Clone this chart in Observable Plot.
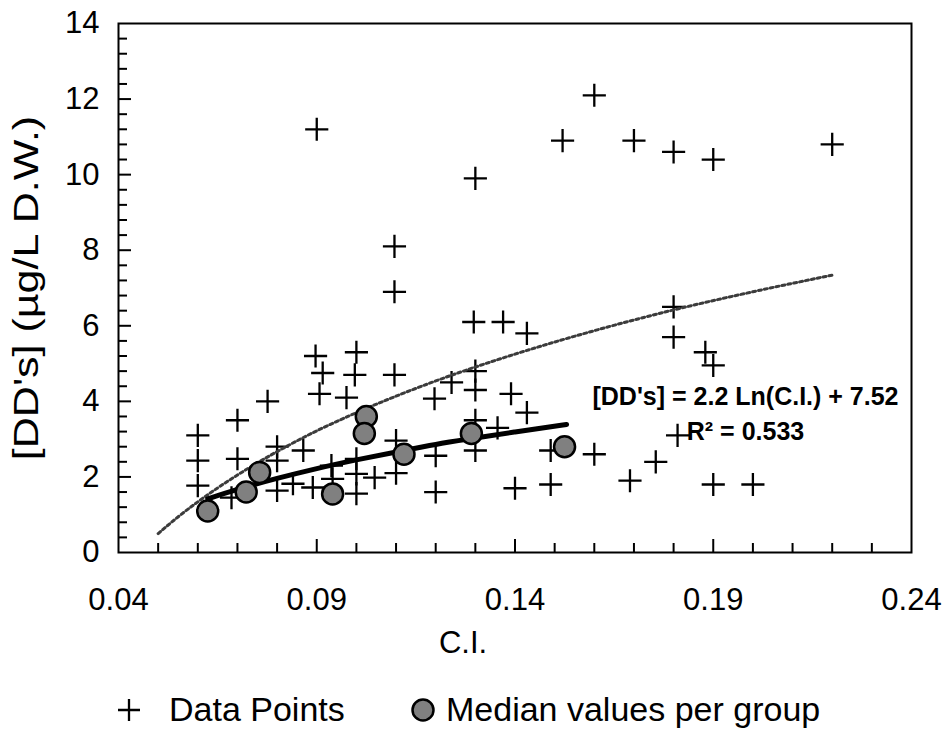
<!DOCTYPE html>
<html>
<head>
<meta charset="utf-8">
<script src="https://cdn.jsdelivr.net/npm/d3@7"></script>
<script src="https://cdn.jsdelivr.net/npm/@observablehq/plot@0.6"></script>
<style>
  body { margin: 0; background: #fff; }
  #wrap { position: relative; width: 944px; height: 734px; overflow: hidden; background: #fff; }
  #chart svg { display: block; }
  .leg { position: absolute; font-family: "Liberation Sans", Arial, sans-serif; font-size: 34px; line-height: 34px; color: #000; white-space: nowrap; }
  .sym { position: absolute; }
</style>
</head>
<body>
<div id="wrap">
  <div id="chart"></div>
  <svg class="sym" style="left:115px;top:696px" width="28" height="28">
    <path d="M3,14H25M14,3V25" stroke="#000" stroke-width="2.3" fill="none"/>
  </svg>
  <div class="leg" style="left:169px;top:692px">Data Points</div>
  <svg class="sym" style="left:409px;top:696px" width="28" height="28">
    <circle cx="14" cy="14" r="10.5" fill="#808080" stroke="#000" stroke-width="2.5"/>
  </svg>
  <div class="leg" style="left:446px;top:692px">Median values per group</div>
</div>
<script>
// Data points (C.I., [DD's])
const dataX = [0.06,0.06,0.06,0.0685,0.07,0.07,0.0776,0.08,0.08,0.08,0.084,0.0866,0.089,0.09,0.0897,0.0915,0.0907,0.0937,0.094,0.0975,0.10,0.0996,0.10,0.10,0.10,0.1046,0.1096,0.1096,0.1096,0.11,0.11,0.1197,0.12,0.12,0.124,0.13,0.1296,0.137,0.143,0.13,0.13,0.13,0.13,0.1356,0.143,0.139,0.14,0.149,0.149,0.16,0.152,0.16,0.17,0.18,0.19,0.22,0.18,0.18,0.188,0.19,0.181,0.1755,0.169,0.19,0.2];
const dataY = [3.1,2.43,1.77,1.45,3.5,2.48,4.0,2.8,2.43,1.64,1.82,2.7,1.72,11.2,5.2,4.75,4.2,2.3,1.95,4.1,5.3,4.7,2.48,2.08,1.56,1.98,8.1,6.9,4.7,2.96,2.1,4.07,2.56,1.6,4.5,9.9,6.1,6.1,5.8,4.8,4.3,3.5,2.7,3.3,3.7,4.2,1.7,1.8,2.7,2.6,10.9,12.1,10.9,10.6,10.4,10.8,6.5,5.7,5.3,4.95,3.1,2.4,1.9,1.8,1.8];

// Median values per group
const medX = [0.0625,0.0722,0.0756,0.094,0.1025,0.102,0.112,0.129,0.1525];
const medY = [1.1,1.6,2.12,1.55,3.6,3.15,2.6,3.15,2.8];

// Trendline through medians (solid)
const medFitX = [0.0625,0.07,0.08,0.09,0.10,0.11,0.12,0.13,0.14,0.153];
const medFitY = [1.42,1.67,1.96,2.22,2.45,2.66,2.86,3.03,3.19,3.39];

// Trendline through all data points (dotted)
const allFitX = [0.05,0.055,0.06,0.07,0.08,0.09,0.10,0.12,0.14,0.16,0.18,0.20,0.22];
const allFitY = [0.5,0.94,1.34,2.05,2.67,3.22,3.70,4.54,5.25,5.87,6.42,6.90,7.34];

// Axis ticks
const xTickLabels = [0.04,0.09,0.14,0.19,0.24];
const yTickLabels = [0,2,4,6,8,10,12,14];
const xMinorTicks = [0.05,0.06,0.07,0.08,0.10,0.11,0.12,0.13,0.15,0.16,0.17,0.18,0.20,0.21,0.22,0.23];
const xMajorTicks = [0.09,0.14,0.19];
const yMajorTicks = [2,4,6,8,10,12];
const yMinorTicks = d3.range(0.4, 14, 0.4).filter(v => Math.abs(v / 2 - Math.round(v / 2)) > 1e-6);

const eqLine1 = "[DD's] = 2.2 Ln(C.I.) + 7.52";
const eqLine2 = "R\u00B2 = 0.533";
const xTitle = "C.I.";
const yTitle = "[DD's] (\u00B5g/L D.W.)";

const points = dataX.map((x, i) => ({x, y: dataY[i]}));
const medians = medX.map((x, i) => ({x, y: medY[i]}));
const medFit = medFitX.map((x, i) => ({x, y: medFitY[i]}));
const allFit = allFitX.map((x, i) => ({x, y: allFitY[i]}));

const W = 944, H = 670, mL = 118, mR = 33, mT = 23, mB = 118;
const plotW = W - mL - mR, plotH = H - mT - mB;
const font = '"Liberation Sans", Arial, sans-serif';

const chart = Plot.plot({
  width: W, height: H,
  marginLeft: mL, marginRight: mR, marginTop: mT, marginBottom: mB,
  style: {fontFamily: font, fontSize: "31px", color: "#000", background: "#fff", overflow: "visible"},
  x: {domain: [0.04, 0.24], label: null},
  y: {domain: [0, 14], label: null},
  marks: [
    Plot.axisX(xTickLabels, {tickSize: 0, tickPadding: 35, tickFormat: d3.format(".2f"), fontSize: 31, label: null}),
    Plot.axisY(yTickLabels, {tickSize: 0, tickPadding: 19, fontSize: 31, label: null}),
    Plot.tickX(xMinorTicks, {x: d => d, insetTop: plotH - 9, stroke: "#000", strokeWidth: 2}),
    Plot.tickX(xMajorTicks, {x: d => d, insetTop: plotH - 13, stroke: "#000", strokeWidth: 2}),
    Plot.tickY(yMinorTicks, {y: d => d, insetRight: plotW - 9, stroke: "#000", strokeWidth: 2}),
    Plot.tickY(yMajorTicks, {y: d => d, insetRight: plotW - 13, stroke: "#000", strokeWidth: 2}),
    Plot.dot(points, {x: "x", y: "y", symbol: "plus", r: 7.5, stroke: "#000", strokeWidth: 2.3, fill: "none"}),
    Plot.line(allFit, {x: "x", y: "y", stroke: "#3c3c3c", strokeWidth: 3, strokeDasharray: "3,3", curve: "monotone-x"}),
    Plot.line(medFit, {x: "x", y: "y", stroke: "#000", strokeWidth: 5, curve: "monotone-x"}),
    Plot.dot(medians, {x: "x", y: "y", r: 10.5, fill: "#808080", stroke: "#000", strokeWidth: 2.5}),
    Plot.text([eqLine1], {frameAnchor: "top-left", dx: 627, dy: 373, textAnchor: "middle", lineAnchor: "middle", fontWeight: "bold", fontSize: 25, fill: "#000"}),
    Plot.text([eqLine2], {frameAnchor: "top-left", dx: 627, dy: 408, textAnchor: "middle", lineAnchor: "middle", fontWeight: "bold", fontSize: 25, fill: "#000"}),
    Plot.frame({stroke: "#000", strokeWidth: 2}),
    Plot.text([xTitle], {frameAnchor: "bottom", dx: -52, dy: 78, textAnchor: "middle", lineAnchor: "top", fontSize: 31, fill: "#000"}),
    Plot.text([yTitle], {frameAnchor: "left", dx: -92, dy: 0, rotate: -90, textAnchor: "middle", lineAnchor: "middle", fontSize: 43, fill: "#000"})
  ]
});

// the rotated y title is drawn slightly thinner across, as in the reference
const svg = d3.select(chart);
svg.selectAll('g[aria-label="x-axis tick label"] text, g[aria-label="y-axis tick label"] text')
  .attr("font-size", 31).style("font-size", "31px").style("font-family", font);
svg.selectAll("text").filter(function() { return this.textContent === yTitle; })
  .each(function() {
    const t = this.getAttribute("transform") || "";
    this.setAttribute("transform", `${t} scale(1,0.82)`);
  });

document.getElementById("chart").appendChild(chart);
</script>
</body>
</html>
